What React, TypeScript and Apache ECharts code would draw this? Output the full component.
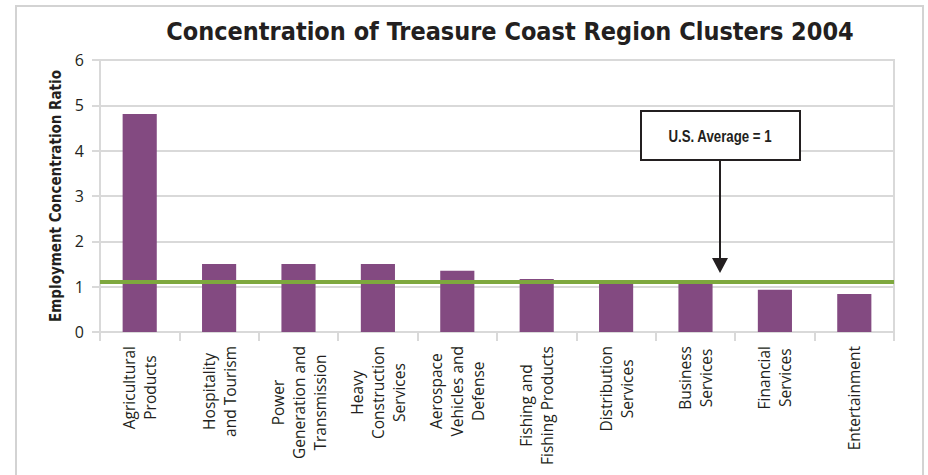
import React, { useEffect, useRef } from "react";
import * as echarts from "echarts";

const categories = [
  "Agricultural\nProducts",
  "Hospitality\nand Tourism",
  "Power\nGeneration and\nTransmission",
  "Heavy\nConstruction\nServices",
  "Aerospace\nVehicles and\nDefense",
  "Fishing and\nFishing Products",
  "Distribution\nServices",
  "Business\nServices",
  "Financial\nServices",
  "Entertainment",
];
const ratios = [4.81, 1.5, 1.5, 1.5, 1.35, 1.17, 1.06, 1.06, 0.93, 0.84];
const averageLineValue = 1.1;
const yMin = 0;
const yMax = 6;
const yStep = 1;
const titleText = "Concentration of Treasure Coast Region Clusters 2004";
const yAxisTitle = "Employment Concentration Ratio";
const annotationText = "U.S. Average = 1";

const GRID = "#d9d9d9";
const BAR = "#834a81";
const GREEN = "#7ea83e";
const INK = "#231f20";
const COND = "'DejaVu Sans Condensed', 'Liberation Sans Narrow', sans-serif";
const REG = "'Open Sans', 'Noto Sans', sans-serif";

export default function App() {
  const ref = useRef<HTMLDivElement>(null);
  useEffect(() => {
    if (!ref.current) return;
    const chart = echarts.init(ref.current, undefined, { renderer: "svg" });
    chart.setOption({
      animation: false,
      backgroundColor: "#ffffff",
      title: {
        text: titleText,
        left: 505,
        top: 14,
        textAlign: "center",
        textStyle: {
          fontFamily: COND,
          fontWeight: "bold",
          fontSize: 25,
          color: INK,
        },
      },
      grid: {
        left: 100,
        right: 34,
        top: 60,
        bottom: 143,
        show: true,
        borderColor: GRID,
        borderWidth: 2,
        containLabel: false,
      },
      xAxis: {
        type: "category",
        data: categories,
        axisLine: { show: true, lineStyle: { color: GRID, width: 2 } },
        axisTick: {
          show: true,
          alignWithLabel: false,
          interval: 0,
          length: 9,
          lineStyle: { color: GRID, width: 2 },
        },
        axisLabel: {
          interval: 0,
          rotate: 90,
          margin: 14,
          formatter: (v: string) =>
            v
              .split("\n")
              .map((l) => `{c|${l}}`)
              .join("\n"),
          rich: {
            c: {
              align: "center",
              fontFamily: REG,
              fontSize: 15.5,
              lineHeight: 21,
              color: INK,
            },
          },
        },
      },
      yAxis: {
        type: "value",
        min: yMin,
        max: yMax,
        interval: yStep,
        name: yAxisTitle,
        nameLocation: "middle",
        nameGap: 37,
        nameTextStyle: {
          fontFamily: COND,
          fontWeight: "bold",
          fontSize: 15,
          color: INK,
        },
        axisLine: { show: true, lineStyle: { color: GRID, width: 2 } },
        axisTick: { show: true, length: 8, lineStyle: { color: GRID, width: 2 } },
        splitLine: { show: true, lineStyle: { color: GRID, width: 2 } },
        axisLabel: {
          fontFamily: REG,
          fontSize: 16,
          color: INK,
          margin: 16,
        },
      },
      series: [
        {
          type: "bar",
          data: ratios,
          barWidth: "43%",
          itemStyle: { color: BAR },
          markLine: {
            silent: true,
            symbol: "none",
            label: { show: false },
            lineStyle: { color: GREEN, width: 4, type: "solid" },
            data: [{ yAxis: averageLineValue }],
          },
        },
      ],
      graphic: [
        {
          type: "rect",
          shape: { x: 16, y: 6, width: 907, height: 490 },
          style: { fill: "none", stroke: "#d3d3d3", lineWidth: 2 },
          silent: true,
        },
        {
          type: "rect",
          shape: { x: 641, y: 111, width: 159, height: 49 },
          style: { fill: "#ffffff", stroke: INK, lineWidth: 2 },
          z: 10,
        },
        {
          type: "text",
          x: 720,
          y: 136,
          scaleX: 0.78,
          z: 11,
          style: {
            text: annotationText,
            fill: INK,
            font: "bold 17px 'Liberation Sans', Arial, sans-serif",
            textAlign: "center",
            textVerticalAlign: "middle",
            align: "center",
            verticalAlign: "middle",
          },
        },
        {
          type: "line",
          shape: { x1: 720, y1: 160, x2: 720, y2: 262 },
          style: { stroke: INK, lineWidth: 2 },
          z: 10,
        },
        {
          type: "polygon",
          shape: {
            points: [
              [712, 258],
              [728, 258],
              [720, 273],
            ],
          },
          style: { fill: INK },
          z: 10,
        },
      ],
    });
    return () => chart.dispose();
  }, []);
  return (
    <div
      ref={ref}
      style={{ position: "absolute", left: 0, top: 0, width: 928, height: 475 }}
    />
  );
}
